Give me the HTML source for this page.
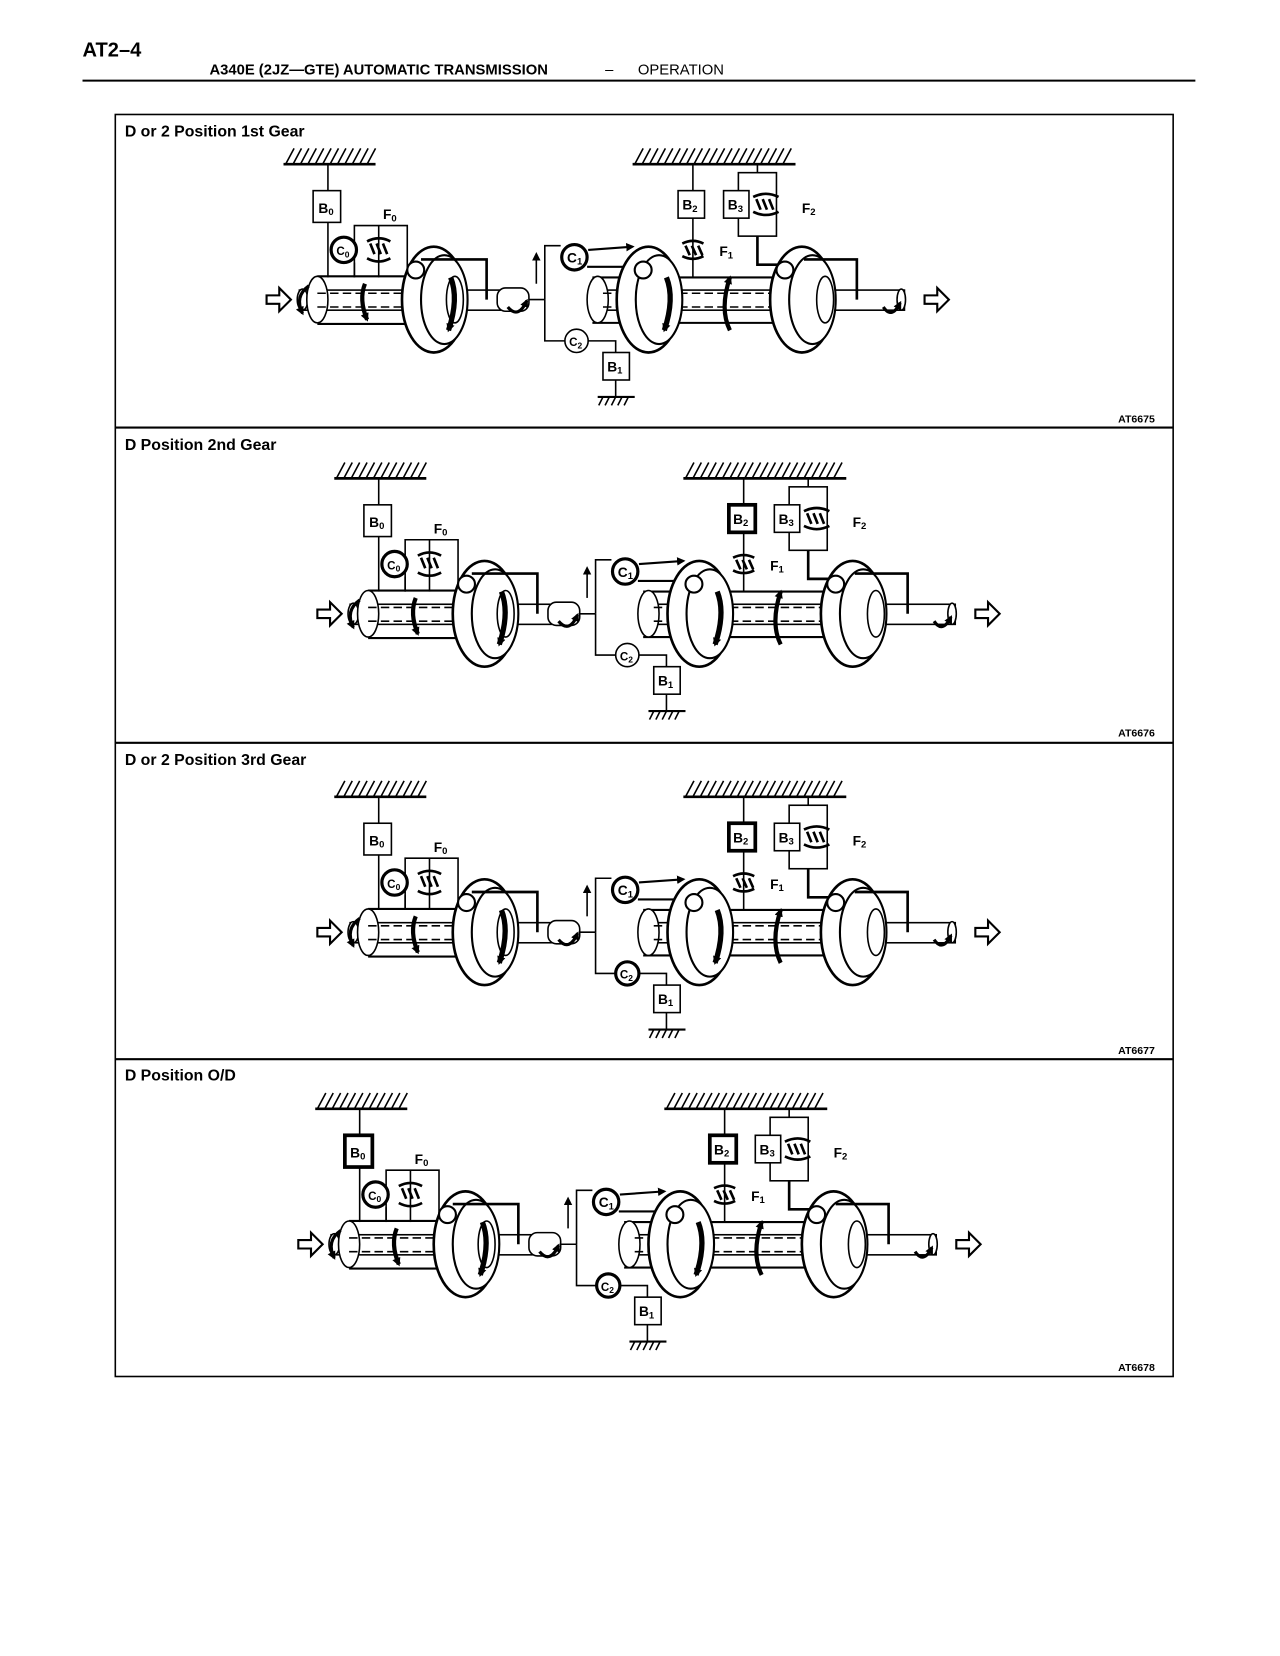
<!DOCTYPE html>
<html><head><meta charset="utf-8"><style>
html,body{margin:0;padding:0;background:#fff;}
svg{display:block;}
text{font-family:"Liberation Sans",sans-serif;}
</style></head><body>
<svg width="1280" height="1656" viewBox="0 0 1210 1565" xmlns="http://www.w3.org/2000/svg">
<defs>
<marker id="ah" markerWidth="8" markerHeight="8" refX="6" refY="4" orient="auto" markerUnits="userSpaceOnUse"><path d="M0,0 L8,4 L0,8 z" fill="#000"/></marker>
<g id="mech" fill="none" stroke="#000" stroke-width="1.5">
<line x1="268" y1="155" x2="355" y2="155" stroke-width="2.5"/>
<path d="M270 155l8-15M277 155l8-15M284 155l8-15M291 155l8-15M298 155l8-15M305 155l8-15M312 155l8-15M319 155l8-15M326 155l8-15M333 155l8-15M340 155l8-15M347 155l8-15" stroke-width="1.5"/>
<line x1="310" y1="155" x2="310" y2="180"/>
<rect x="296" y="180" width="26" height="30" fill="#fff"/>
<line x1="310" y1="210" x2="310" y2="262"/>
<path d="M335 262V213H385V262"/>
<path d="M358 213V262"/>
<path d="M347 228q11-6 22 0M347 244q11 6 22 0M350 230l4 10M356 230l4 10M362 230l4 10" stroke-width="2.5"/>
<circle cx="325" cy="236" r="12" fill="#fff" stroke-width="3"/>
<rect x="283" y="274" width="190" height="19" fill="#fff"/>
<ellipse cx="286" cy="283" rx="5" ry="10" fill="#fff"/>
<path d="M300 261H420M300 306H420" stroke-width="2"/>
<ellipse cx="300" cy="283" rx="10" ry="22" fill="#fff"/>
<path d="M300 277H440M300 290H440" stroke-dasharray="8 4"/>
<ellipse cx="410" cy="283" rx="30" ry="50" fill="#fff" stroke-width="2.5"/>
<ellipse cx="420" cy="283" rx="22" ry="42" fill="#fff" stroke-width="2"/>
<ellipse cx="430" cy="283" rx="8" ry="22" fill="#fff"/>
<circle cx="393" cy="255" r="8" fill="#fff" stroke-width="2"/>
<path d="M398 245H460V283" stroke-width="2.5"/>
<path d="M335 262V248" />
<path d="M345 268q-6 15 2 34" stroke-width="4" marker-end="url(#ah)"/>
<path d="M426 262q8 20-2 50" stroke-width="5" marker-end="url(#ah)"/>
<path d="M292 270q-14 10-6 26" stroke-width="3" marker-end="url(#ah)"/>
<rect x="470" y="272" width="30" height="22" rx="8" fill="#fff"/>
<path d="M480 290q10 12 18-6" stroke-width="3" marker-end="url(#ah)"/>
<line x1="500" y1="283" x2="515" y2="283"/>
<path d="M515 283V232H530"/>
<path d="M515 283V322H534"/>
<line x1="507" y1="268" x2="507" y2="240" marker-end="url(#ah)"/>
<circle cx="543" cy="243" r="12" fill="#fff" stroke-width="3"/>
<circle cx="545" cy="322" r="11" fill="#fff"/>
<line x1="556" y1="236" x2="598" y2="233" stroke-width="2" marker-end="url(#ah)"/>
<path d="M556 322H582V333"/>
<rect x="570" y="333" width="25" height="26" fill="#fff"/>
<line x1="582" y1="359" x2="582" y2="375"/>
<line x1="565" y1="375" x2="600" y2="375" stroke-width="2"/>
<path d="M566 383l4-8M572 383l4-8M578 383l4-8M584 383l4-8M590 383l4-8" />
<path d="M555 252H605V262" stroke-width="2"/>
<rect x="558" y="274" width="297" height="19" fill="#fff"/>
<path d="M560 262H780M560 305H780" stroke-width="2"/>
<ellipse cx="565" cy="283" rx="10" ry="22" fill="#fff"/>
<path d="M570 277H770M570 290H770" stroke-dasharray="8 4"/>
<ellipse cx="613" cy="283" rx="30" ry="50" fill="#fff" stroke-width="2.5"/>
<ellipse cx="623" cy="283" rx="22" ry="42" fill="#fff" stroke-width="2"/>
<circle cx="608" cy="255" r="8" fill="#fff" stroke-width="2"/>
<path d="M630 262q8 20-2 50" stroke-width="5" marker-end="url(#ah)"/>
<path d="M690 312q-10-20 0-50" stroke-width="4" marker-end="url(#ah)"/>
<line x1="598" y1="155" x2="752" y2="155" stroke-width="2.5"/>
<path d="M600 155l8-15M607 155l8-15M614 155l8-15M621 155l8-15M628 155l8-15M635 155l8-15M642 155l8-15M649 155l8-15M656 155l8-15M663 155l8-15M670 155l8-15M677 155l8-15M684 155l8-15M691 155l8-15M698 155l8-15M705 155l8-15M712 155l8-15M719 155l8-15M726 155l8-15M733 155l8-15M740 155l8-15"/>
<line x1="655" y1="155" x2="655" y2="180"/>
<rect x="641" y="180" width="25" height="26" fill="#fff"/>
<line x1="655" y1="206" x2="655" y2="262"/>
<path d="M645 230q10-5 20 0M645 242q10 5 20 0M648 232l4 9M654 232l4 9M660 232l4 9" stroke-width="2.5"/>
<line x1="716" y1="155" x2="716" y2="163"/>
<rect x="698" y="163" width="36" height="60"/>
<rect x="684" y="180" width="24" height="26" fill="#fff"/>
<path d="M712 186q12-6 24 0M712 200q12 6 24 0M715 188l4 10M721 188l4 10M727 188l4 10" stroke-width="2.5"/>
<path d="M716 223V250H745" stroke-width="2.5"/>
<ellipse cx="758" cy="283" rx="30" ry="50" fill="#fff" stroke-width="2.5"/>
<ellipse cx="768" cy="283" rx="22" ry="42" fill="#fff" stroke-width="2"/>
<ellipse cx="780" cy="283" rx="8" ry="22" fill="#fff"/>
<circle cx="742" cy="255" r="8" fill="#fff" stroke-width="2"/>
<path d="M760 245H810V283" stroke-width="2.5"/>
<ellipse cx="852" cy="283" rx="4" ry="10" fill="#fff"/>
<path d="M835 290q8 12 16-4" stroke-width="3" marker-end="url(#ah)"/>
<path d="M252 279h12v-7l11 11-11 11v-7h-12z" stroke-width="2" fill="#fff"/>
<path d="M874 279h12v-7l11 11-11 11v-7h-12z" stroke-width="2" fill="#fff"/>
</g>
<g id="lbl" font-size="13" font-weight="bold" fill="#000">
<text x="301" y="201">B<tspan font-size="9" dy="2">0</tspan></text>
<text x="362" y="207">F<tspan font-size="9" dy="2">0</tspan></text>
<text x="318" y="241" font-size="11">C<tspan font-size="8" dy="2">0</tspan></text>
<text x="536" y="248">C<tspan font-size="9" dy="2">1</tspan></text>
<text x="538" y="327" font-size="11">C<tspan font-size="8" dy="2">2</tspan></text>
<text x="574" y="351">B<tspan font-size="9" dy="2">1</tspan></text>
<text x="645" y="198">B<tspan font-size="9" dy="2">2</tspan></text>
<text x="688" y="198">B<tspan font-size="9" dy="2">3</tspan></text>
<text x="758" y="201">F<tspan font-size="9" dy="2">2</tspan></text>
<text x="680" y="242">F<tspan font-size="9" dy="2">1</tspan></text>
</g>
</defs>

<text x="78" y="53" font-size="19" font-weight="bold">AT2–4</text>
<text x="198" y="70" font-size="14" font-weight="bold">A340E (2JZ—GTE) AUTOMATIC TRANSMISSION</text>
<text x="572" y="70" font-size="14">–</text>
<text x="603" y="70" font-size="14">OPERATION</text>
<line x1="78" y1="76" x2="1130" y2="76" stroke="#000" stroke-width="2"/>

<rect x="109" y="108" width="1000" height="1193" fill="none" stroke="#000" stroke-width="1.5"/>
<line x1="109" y1="404" x2="1109" y2="404" stroke="#000" stroke-width="2"/>
<line x1="109" y1="702" x2="1109" y2="702" stroke="#000" stroke-width="2"/>
<line x1="109" y1="1001" x2="1109" y2="1001" stroke="#000" stroke-width="2"/>

<g font-size="15" font-weight="bold">
<text x="118" y="129">D or 2 Position 1st Gear</text>
<text x="118" y="425">D Position 2nd Gear</text>
<text x="118" y="723">D or 2 Position 3rd Gear</text>
<text x="118" y="1021">D Position O/D</text>
</g>
<g font-size="10" font-weight="bold">
<text x="1057" y="399">AT6675</text>
<text x="1057" y="696">AT6676</text>
<text x="1057" y="996">AT6677</text>
<text x="1057" y="1296">AT6678</text>
</g>

<use href="#mech"/><use href="#lbl"/>
<g transform="translate(48,297)"><use href="#mech"/><use href="#lbl"/>
<rect x="641" y="180" width="25" height="26" fill="none" stroke="#000" stroke-width="3.5"/></g>
<g transform="translate(48,598)"><use href="#mech"/><use href="#lbl"/>
<rect x="641" y="180" width="25" height="26" fill="none" stroke="#000" stroke-width="3.5"/>
<circle cx="545" cy="322" r="11" fill="none" stroke="#000" stroke-width="3"/></g>
<g transform="translate(30,893)"><use href="#mech"/><use href="#lbl"/>
<rect x="641" y="180" width="25" height="26" fill="none" stroke="#000" stroke-width="3.5"/>
<rect x="296" y="180" width="26" height="30" fill="none" stroke="#000" stroke-width="3.5"/>
<circle cx="545" cy="322" r="11" fill="none" stroke="#000" stroke-width="3"/></g>
</svg>
</body></html>
